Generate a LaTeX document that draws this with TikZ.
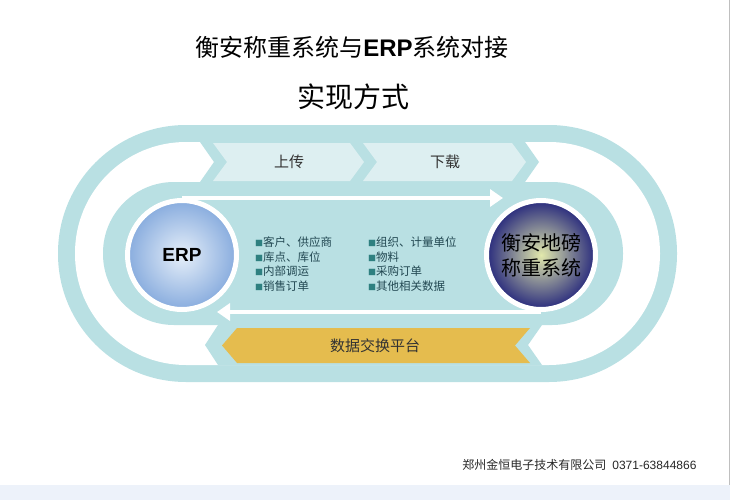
\documentclass[tikz,border=0pt]{standalone}
\usepackage{fontspec}
\setmainfont{Noto Sans CJK SC}
\newfontfamily\latinsf{Liberation Sans}
\usetikzlibrary{arrows.meta}
\definecolor{ringteal}{RGB}{185,224,227}
\definecolor{chevlight}{RGB}{221,239,241}
\definecolor{gold}{RGB}{229,188,78}
\definecolor{listtext}{RGB}{34,72,82}
\definecolor{bulletteal}{RGB}{46,128,128}
\definecolor{erpinner}{RGB}{230,239,249}
\definecolor{erpouter}{RGB}{136,172,222}
\definecolor{scaleinner}{RGB}{226,233,172}
\definecolor{scaleouter}{RGB}{40,42,125}
\definecolor{footband}{RGB}{237,242,250}
\newcommand{\sqbullet}{{\color{bulletteal}\fontsize{8}{8}\selectfont ■}}
\tikzset{
  hub/.style={circle, minimum size=109pt, draw=white, line width=5pt,
    shading=radial, text=black, align=center},
  chevtext/.style={font=\fontsize{15}{18}\selectfont, text=black!80},
  itemlist/.style={font=\fontsize{11.5}{14.5}\selectfont, text=listtext,
    align=left, anchor=west, inner sep=0pt},
  flow/.style={draw=white, line width=4pt, -{Triangle[length=13pt,width=17pt]}},
  footnote/.style={font=\fontsize{12}{14}\selectfont, text=black!85}
}
\begin{document}
\begin{tikzpicture}[x=1pt, y=-1pt]
  \useasboundingbox (0,0) rectangle (730,500);

  % titles
  \node[font=\fontsize{24}{28}\selectfont] (title) at (352,47)
    {衡安称重系统与{\latinsf\bfseries ERP}系统对接};
  \node[font=\fontsize{28}{32}\selectfont] (subtitle) at (353,97) {实现方式};

  % track
  \fill[ringteal, rounded corners=128pt] (58,125) rectangle (677,382);
  \fill[white, rounded corners=111pt] (75,142) rectangle (660,365);
  \fill[ringteal, rounded corners=71pt] (103,182) rectangle (623,325);

  % upper band
  \fill[ringteal] (200,142) -- (214,162) -- (200,182) -- (525,182) -- (539,162) -- (525,142) -- cycle;
  \fill[chevlight] (213,143) -- (350,143) -- (364,162) -- (350,181) -- (213,181) -- (227,162) -- cycle;
  \fill[chevlight] (363,143) -- (512,143) -- (526,162) -- (512,181) -- (363,181) -- (377,162) -- cycle;
  \node[chevtext] (upload) at (289,162) {上传};
  \node[chevtext] (download) at (445,162) {下载};

  % lower band
  \fill[ringteal] (218,325) -- (205,345) -- (218,365) -- (542,365) -- (528,345) -- (542,325) -- cycle;
  \fill[gold] (237,328) -- (530,328) -- (515,345.5) -- (530,363) -- (237,363) -- (222,345.5) -- cycle;
  \node[chevtext] (platform) at (375,346) {数据交换平台};

  % systems
  \node[hub, inner color=erpinner, outer color=erpouter,
    font=\latinsf\bfseries\fontsize{19}{22}\selectfont] (erp) at (182,255) {ERP};
  \node[hub, inner color=scaleinner, outer color=scaleouter,
    font=\fontsize{20}{25}\selectfont] (scale) at (541,255) {衡安地磅\\称重系统};

  \coordinate (uptip) at (503,198);
  \coordinate (downtip) at (217,312);
  \draw[flow] (erp.north) -- (uptip);
  \draw[flow] (scale.south) -- (downtip);

  % data items
  \node[itemlist] (itemsl) at (255,264)
    {\sqbullet 客户、供应商\\\sqbullet 库点、库位\\\sqbullet 内部调运\\\sqbullet 销售订单};
  \node[itemlist] (itemsr) at (368,264)
    {\sqbullet 组织、计量单位\\\sqbullet 物料\\\sqbullet 采购订单\\\sqbullet 其他相关数据};

  % footer
  \fill[footband] (0,485) rectangle (730,500);
  \draw[black!25, line width=1pt] (729.5,0) -- (729.5,485);
  \node[footnote, anchor=east] (company) at (700,465)
    {郑州金恒电子技术有限公司\hspace{6pt}{\latinsf 0371-63844866}};
\end{tikzpicture}
\end{document}
